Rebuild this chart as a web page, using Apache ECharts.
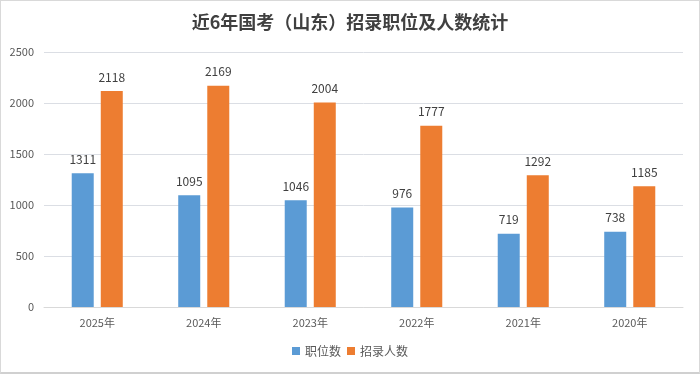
<!DOCTYPE html>
<html><head><meta charset="utf-8">
<script src="https://cdn.jsdelivr.net/npm/echarts@6/dist/echarts.min.js"></script>
<style>html,body{margin:0;padding:0;background:#fff;}
#c{position:absolute;left:0;top:0;width:698px;height:371px;border:1px solid #d9d9d9;border-bottom:2px solid #d0d0d0;}</style>
</head><body><div id="c"></div>
<script>
const categories = ['2025年','2024年','2023年','2022年','2021年','2020年'];
const positions = [1311,1095,1046,976,719,738];
const recruits = [2118,2169,2004,1777,1292,1185];
const yTicks = [0,500,1000,1500,2000,2500];
const chart = echarts.init(document.getElementById('c'));
const font = '"Microsoft YaHei","Noto Sans CJK SC",sans-serif';
chart.setOption({
  animation:false,
  title:{text:'近6年国考（山东）招录职位及人数统计',left:'center',top:7,
    textStyle:{fontSize:18,fontWeight:'bold',color:'#404040',fontFamily:'"Noto Sans CJK SC",serif'}},
  legend:{bottom:10,left:'center',itemWidth:8,itemHeight:8,itemGap:6,icon:'rect',
    textStyle:{fontSize:12,color:'#595959',fontFamily:font},data:['职位数','招录人数']},
  grid:{left:43,right:16,top:51,bottom:65,containLabel:false},
  xAxis:{type:'category',data:categories,
    axisLine:{lineStyle:{color:'#d9d9d9'}},axisTick:{show:false},
    axisLabel:{color:'#595959',fontSize:11,margin:10,fontFamily:font}},
  yAxis:{type:'value',min:yTicks[0],max:yTicks[yTicks.length-1],interval:500,
    axisLine:{show:false},axisTick:{show:false},
    axisLabel:{color:'#595959',fontSize:11,margin:10,fontFamily:font,formatter:v=>String(v)}},
  series:[
    {name:'职位数',type:'bar',data:positions,barWidth:22,barGap:'32%',
     itemStyle:{color:'#5B9BD5'},
     label:{show:true,position:'top',distance:8,color:'#404040',fontSize:12,fontFamily:font}},
    {name:'招录人数',type:'bar',data:recruits,barWidth:22,
     itemStyle:{color:'#ED7D31'},
     label:{show:true,position:'top',distance:8,color:'#404040',fontSize:12,fontFamily:font}}
  ]
});
</script></body></html>
